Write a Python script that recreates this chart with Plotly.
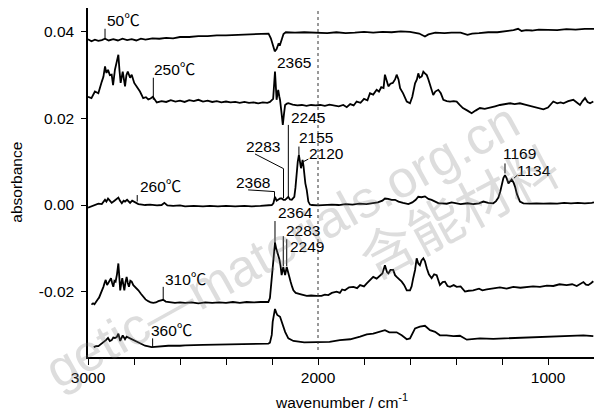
import plotly.graph_objects as go

# ---------------- data (wavenumber / cm-1, absorbance) ----------------
wn_50 = [3000, 2985, 2970, 2955, 2940, 2926, 2910, 2890, 2870, 2850, 2830, 2810, 2790, 2770, 2750,
         2720, 2690, 2660, 2630, 2600, 2560, 2520, 2480, 2440, 2400, 2360, 2320, 2280, 2240, 2215,
         2205, 2195, 2188, 2180, 2172, 2165, 2158, 2150, 2140, 2100, 2060, 2000, 1960, 1920, 1880,
         1840, 1800, 1760, 1720, 1680, 1640, 1600, 1560, 1535, 1520, 1490, 1450, 1420, 1380, 1350,
         1330, 1300, 1260, 1220, 1180, 1150, 1130, 1115, 1095, 1070, 1040, 1000, 960, 920, 880,
         840, 800]
ab_50 = [0.0383, 0.0378, 0.0382, 0.0379, 0.0381, 0.0384, 0.0380, 0.0383, 0.0380, 0.0384, 0.0381,
         0.0383, 0.0380, 0.0384, 0.0382, 0.0385, 0.0384, 0.0386, 0.0385, 0.0388, 0.0388, 0.0390,
         0.0390, 0.0392, 0.0392, 0.0393, 0.0394, 0.0395, 0.0396, 0.0396, 0.0385, 0.0365, 0.0355,
         0.0360, 0.0372, 0.0370, 0.0380, 0.0395, 0.0399, 0.0398, 0.0399, 0.0398, 0.0397, 0.0399,
         0.0397, 0.0398, 0.0400, 0.0398, 0.0400, 0.0399, 0.0401, 0.0400, 0.0396, 0.0389, 0.0394,
         0.0398, 0.0397, 0.0398, 0.0398, 0.0393, 0.0396, 0.0397, 0.0399, 0.0399, 0.0401, 0.0404,
         0.0407, 0.0402, 0.0404, 0.0403, 0.0405, 0.0405, 0.0404, 0.0406, 0.0405, 0.0407, 0.0407]

wn_250 = [3000, 2985, 2970, 2955, 2940, 2933, 2926, 2920, 2913, 2905, 2897, 2891, 2883, 2875, 2868,
          2863, 2858, 2849, 2839, 2833, 2827, 2817, 2810, 2799, 2788, 2774, 2760, 2748, 2738, 2728,
          2718, 2701, 2680, 2660, 2640, 2620, 2600, 2580, 2560, 2540, 2520, 2500, 2480, 2460, 2440,
          2420, 2400, 2380, 2360, 2340, 2320, 2300, 2280, 2260, 2240, 2220, 2209, 2195, 2187, 2183,
          2180, 2176, 2173, 2168, 2165, 2158, 2153, 2148, 2143, 2135, 2129, 2110, 2090, 2070, 2050,
          2030, 2010, 1990, 1970, 1950, 1930, 1910, 1890, 1875, 1860, 1845, 1832, 1815, 1800, 1785,
          1774, 1760, 1745, 1735, 1725, 1715, 1709, 1700, 1694, 1685, 1675, 1665, 1658, 1650, 1643,
          1630, 1614, 1600, 1590, 1578, 1570, 1564, 1558, 1549, 1542, 1535, 1527, 1520, 1510, 1499,
          1490, 1477, 1466, 1455, 1440, 1426, 1410, 1397, 1385, 1370, 1350, 1332, 1315, 1296, 1275,
          1252, 1230, 1209, 1190, 1165, 1145, 1122, 1100, 1078, 1050, 1020, 1000, 977, 960, 945,
          933, 912, 890, 875, 861, 850, 839, 828, 817, 803]
ab_250 = [0.0250, 0.0247, 0.0262, 0.0258, 0.0285, 0.0296, 0.0320, 0.0305, 0.0312, 0.0300, 0.0301,
          0.0277, 0.0312, 0.0330, 0.0347, 0.0310, 0.0282, 0.0308, 0.0274, 0.0300, 0.0308, 0.0294,
          0.0301, 0.0282, 0.0274, 0.0262, 0.0247, 0.0249, 0.0244, 0.0246, 0.0250, 0.0237, 0.0240,
          0.0238, 0.0242, 0.0239, 0.0241, 0.0238, 0.0242, 0.0240, 0.0243, 0.0239, 0.0241, 0.0238,
          0.0240, 0.0237, 0.0239, 0.0237, 0.0238, 0.0236, 0.0238, 0.0236, 0.0237, 0.0235, 0.0237,
          0.0236, 0.0238, 0.0245, 0.0308, 0.0280, 0.0243, 0.0258, 0.0266, 0.0250, 0.0243, 0.0210,
          0.0185, 0.0210, 0.0231, 0.0234, 0.0235, 0.0232, 0.0230, 0.0231, 0.0229, 0.0231, 0.0230,
          0.0231, 0.0229, 0.0232, 0.0230, 0.0228, 0.0231, 0.0226, 0.0233, 0.0230, 0.0239, 0.0236,
          0.0245, 0.0242, 0.0258, 0.0255, 0.0266, 0.0262, 0.0272, 0.0270, 0.0301, 0.0285, 0.0274,
          0.0280, 0.0282, 0.0290, 0.0301, 0.0290, 0.0270, 0.0258, 0.0239, 0.0235, 0.0250, 0.0281,
          0.0290, 0.0304, 0.0294, 0.0297, 0.0308, 0.0304, 0.0300, 0.0290, 0.0275, 0.0254, 0.0262,
          0.0266, 0.0258, 0.0243, 0.0240, 0.0239, 0.0240, 0.0239, 0.0232, 0.0224, 0.0218, 0.0212,
          0.0218, 0.0224, 0.0222, 0.0226, 0.0228, 0.0231, 0.0233, 0.0235, 0.0233, 0.0235, 0.0232,
          0.0229, 0.0226, 0.0221, 0.0225, 0.0239, 0.0235, 0.0237, 0.0235, 0.0240, 0.0243, 0.0236,
          0.0231, 0.0240, 0.0247, 0.0238, 0.0235, 0.0239]

wn_260 = [3000, 2985, 2970, 2955, 2940, 2926, 2920, 2913, 2905, 2897, 2885, 2868, 2860, 2853, 2845,
          2839, 2830, 2817, 2808, 2796, 2781, 2765, 2752, 2730, 2700, 2680, 2668, 2655, 2630, 2600,
          2578, 2540, 2500, 2470, 2435, 2400, 2360, 2320, 2288, 2250, 2220, 2201, 2194, 2187, 2180,
          2173, 2165, 2158, 2150, 2143, 2136, 2129, 2122, 2114, 2108, 2103, 2098, 2093, 2088, 2083,
          2078, 2074, 2070, 2067, 2063, 2060, 2055, 2049, 2042, 2035, 2027, 2000, 1970, 1940, 1910,
          1880, 1850, 1820, 1790, 1760, 1740, 1720, 1709, 1695, 1680, 1665, 1650, 1630, 1607, 1590,
          1575, 1564, 1550, 1535, 1520, 1506, 1490, 1475, 1462, 1440, 1419, 1400, 1380, 1350, 1325,
          1300, 1281, 1260, 1238, 1226, 1216, 1208, 1201, 1194, 1187, 1180, 1172, 1165, 1158, 1150,
          1143, 1135, 1122, 1107, 1080, 1050, 1020, 990, 960, 930, 900, 870, 840, 810, 800]
ab_260 = [-0.0006, -0.0003, 0.0000, 0.0003, 0.0002, 0.0012, 0.0008, 0.0015, 0.0010, 0.0005, 0.0010,
          0.0017, 0.0009, 0.0004, 0.0010, 0.0008, 0.0012, 0.0005, 0.0010, 0.0007, 0.0002, 0.0001,
          0.0000, 0.0001, -0.0001, 0.0000, 0.0005, -0.0001, -0.0002, -0.0001, -0.0003, -0.0002,
          -0.0003, -0.0002, -0.0003, -0.0002, -0.0003, -0.0002, -0.0003, -0.0002, -0.0001, 0.0000,
          0.0004, 0.0019, 0.0010, 0.0012, 0.0015, 0.0015, 0.0012, 0.0012, 0.0015, 0.0019, 0.0013,
          0.0012, 0.0016, 0.0019, 0.0040, 0.0073, 0.0100, 0.0116, 0.0098, 0.0085, 0.0095, 0.0104,
          0.0090, 0.0073, 0.0050, 0.0035, 0.0008, 0.0001, 0.0000, -0.0001, 0.0000, 0.0001, 0.0000,
          0.0002, 0.0001, 0.0003, 0.0002, 0.0004, 0.0006, 0.0010, 0.0015, 0.0014, 0.0012, 0.0012,
          0.0008, 0.0005, 0.0002, 0.0006, 0.0012, 0.0019, 0.0018, 0.0020, 0.0014, 0.0012, 0.0008,
          0.0004, 0.0004, 0.0003, 0.0006, 0.0004, 0.0002, 0.0004, 0.0002, 0.0004, 0.0008, 0.0005,
          0.0004, 0.0009, 0.0017, 0.0030, 0.0050, 0.0062, 0.0069, 0.0062, 0.0050, 0.0054, 0.0059,
          0.0052, 0.0042, 0.0025, 0.0008, 0.0004, 0.0003, 0.0004, 0.0003, 0.0004, 0.0003, 0.0005,
          0.0004, 0.0005, 0.0004, 0.0005, 0.0006]

wn_310 = [2985, 2978, 2972, 2965, 2958, 2952, 2945, 2940, 2933, 2928, 2923, 2917, 2912, 2906, 2900,
          2895, 2890, 2885, 2880, 2874, 2868, 2864, 2860, 2855, 2851, 2846, 2842, 2837, 2832, 2827,
          2822, 2816, 2810, 2803, 2796, 2788, 2781, 2770, 2760, 2750, 2738, 2727, 2716, 2705, 2694,
          2685, 2673, 2662, 2651, 2640, 2622, 2600, 2578, 2550, 2520, 2490, 2460, 2430, 2400, 2370,
          2340, 2310, 2280, 2250, 2230, 2216, 2209, 2203, 2197, 2192, 2187, 2182, 2177, 2172, 2168,
          2163, 2158, 2151, 2147, 2143, 2136, 2132, 2129, 2124, 2119, 2113, 2107, 2097, 2086, 2070,
          2049, 2030, 2006, 1985, 1970, 1955, 1940, 1919, 1905, 1895, 1883, 1865, 1846, 1830, 1817,
          1800, 1788, 1775, 1760, 1745, 1730, 1720, 1709, 1700, 1694, 1685, 1673, 1665, 1658, 1645,
          1636, 1625, 1614, 1600, 1593, 1586, 1578, 1571, 1564, 1557, 1550, 1542, 1535, 1527, 1518,
          1506, 1495, 1484, 1477, 1470, 1458, 1448, 1437, 1426, 1410, 1397, 1380, 1361, 1345, 1325,
          1300, 1285, 1266, 1240, 1209, 1180, 1151, 1120, 1093, 1065, 1035, 1005, 977, 950, 919,
          895, 875, 860, 846, 835, 825, 812, 803]
ab_310 = [-0.0230, -0.0227, -0.0229, -0.0222, -0.0218, -0.0214, -0.0206, -0.0198, -0.0189, -0.0180,
          -0.0173, -0.0185, -0.0181, -0.0175, -0.0169, -0.0180, -0.0189, -0.0175, -0.0177, -0.0160,
          -0.0135, -0.0165, -0.0197, -0.0180, -0.0169, -0.0185, -0.0197, -0.0178, -0.0166, -0.0180,
          -0.0189, -0.0175, -0.0177, -0.0185, -0.0189, -0.0192, -0.0197, -0.0205, -0.0212, -0.0218,
          -0.0222, -0.0225, -0.0226, -0.0225, -0.0222, -0.0220, -0.0219, -0.0223, -0.0224, -0.0225,
          -0.0226, -0.0225, -0.0226, -0.0225, -0.0227, -0.0225, -0.0226, -0.0225, -0.0226, -0.0224,
          -0.0226, -0.0224, -0.0225, -0.0224, -0.0225, -0.0224, -0.0215, -0.0180, -0.0146, -0.0110,
          -0.0087, -0.0100, -0.0108, -0.0118, -0.0125, -0.0140, -0.0162, -0.0143, -0.0158, -0.0162,
          -0.0143, -0.0150, -0.0154, -0.0165, -0.0177, -0.0188, -0.0197, -0.0203, -0.0204, -0.0207,
          -0.0210, -0.0209, -0.0210, -0.0210, -0.0207, -0.0208, -0.0203, -0.0200, -0.0203, -0.0195,
          -0.0197, -0.0190, -0.0189, -0.0192, -0.0185, -0.0188, -0.0181, -0.0175, -0.0166, -0.0170,
          -0.0162, -0.0158, -0.0139, -0.0155, -0.0158, -0.0150, -0.0150, -0.0162, -0.0166, -0.0172,
          -0.0177, -0.0185, -0.0197, -0.0197, -0.0188, -0.0169, -0.0150, -0.0123, -0.0135, -0.0139,
          -0.0128, -0.0123, -0.0130, -0.0146, -0.0160, -0.0169, -0.0160, -0.0162, -0.0175, -0.0185,
          -0.0178, -0.0177, -0.0187, -0.0189, -0.0185, -0.0189, -0.0188, -0.0200, -0.0198, -0.0197,
          -0.0193, -0.0197, -0.0195, -0.0192, -0.0190, -0.0193, -0.0189, -0.0191, -0.0190, -0.0188,
          -0.0189, -0.0186, -0.0187, -0.0183, -0.0185, -0.0183, -0.0187, -0.0183, -0.0178, -0.0184,
          -0.0185, -0.0180, -0.0176]

wn_360 = [2975, 2965, 2955, 2945, 2937, 2930, 2922, 2913, 2905, 2897, 2890, 2883, 2875, 2868, 2860,
          2849, 2839, 2832, 2817, 2805, 2796, 2774, 2752, 2723, 2700, 2651, 2600, 2578, 2500, 2435,
          2360, 2288, 2216, 2209, 2201, 2197, 2192, 2187, 2182, 2177, 2165, 2158, 2153, 2143, 2129,
          2107, 2060, 2006, 1950, 1905, 1860, 1817, 1788, 1760, 1730, 1709, 1690, 1658, 1636, 1614,
          1600, 1578, 1557, 1535, 1513, 1491, 1470, 1441, 1411, 1383, 1353, 1296, 1238, 1180, 1093,
          1035, 962, 890, 846, 803]
ab_360 = [-0.0328, -0.0326, -0.0326, -0.0322, -0.0318, -0.0316, -0.0312, -0.0307, -0.0314, -0.0312,
          -0.0306, -0.0307, -0.0305, -0.0297, -0.0314, -0.0301, -0.0310, -0.0304, -0.0308, -0.0310,
          -0.0314, -0.0320, -0.0325, -0.0328, -0.0327, -0.0325, -0.0325, -0.0324, -0.0323, -0.0322,
          -0.0322, -0.0321, -0.0320, -0.0318, -0.0300, -0.0270, -0.0252, -0.0240, -0.0248, -0.0254,
          -0.0258, -0.0268, -0.0277, -0.0293, -0.0308, -0.0314, -0.0317, -0.0317, -0.0316, -0.0312,
          -0.0310, -0.0304, -0.0299, -0.0297, -0.0293, -0.0289, -0.0294, -0.0294, -0.0301, -0.0310,
          -0.0308, -0.0285, -0.0281, -0.0279, -0.0289, -0.0293, -0.0301, -0.0301, -0.0303, -0.0302,
          -0.0311, -0.0308, -0.0309, -0.0308, -0.0306, -0.0304, -0.0304, -0.0303, -0.0301, -0.0303]

series = [(wn_50, ab_50), (wn_250, ab_250), (wn_260, ab_260), (wn_310, ab_310), (wn_360, ab_360)]

x_major = [3000, 2000, 1000]
x_major_text = ["3000", "2000", "1000"]
y_ticks = [0.04, 0.02, 0.00, -0.02]
y_tick_text = ["0.04", "0.02", "0.00", "-0.02"]

# labels: (text, wavenumber, absorbance)
labels = [("50℃", 2922, 0.0425), ("250℃", 2717, 0.0312), ("2365", 2183, 0.0328),
          ("2245", 2122, 0.0201), ("2283", 2317, 0.0134), ("2155", 2087, 0.0155),
          ("2120", 2043, 0.0120), ("2368", 2361, 0.0053), ("260℃", 2780, 0.0042),
          ("1169", 1198, 0.0118), ("1134", 1137, 0.0079), ("2364", 2180, -0.0018),
          ("2283", 2143, -0.0058), ("2249", 2128, -0.0095), ("310℃", 2670, -0.0173),
          ("360℃", 2730, -0.0289)]

# leader lines: list of polylines [(wn, abs), ...]
leaders = [
    [(2926, 0.0407), (2926, 0.0384)],
    [(2716, 0.0294), (2716, 0.0243)],
    [(2129, 0.0185), (2129, 0.0016)],
    [(2274, 0.0118), (2150, 0.0084), (2150, 0.0016)],
    [(2304, 0.0035), (2189, 0.0031), (2189, 0.0009)],
    [(2083, 0.0135), (2083, 0.0116)],
    [(2064, 0.0100), (2042, 0.0106)],
    [(1187, 0.0096), (1187, 0.0073)],
    [(1148, 0.0062), (1133, 0.0069)],
    [(2786, 0.0023), (2786, 0.0008)],
    [(2187, -0.0037), (2187, -0.0088)],
    [(2151, -0.0072), (2151, -0.0141)],
    [(2136, -0.0079), (2136, -0.0141)],
    [(2673, -0.0189), (2673, -0.0220)],
    [(2719, -0.0308), (2719, -0.0328)],
]

FONT = "Liberation Sans, Noto Sans CJK SC, Arial, sans-serif"
FS = 15.5

fig = go.Figure()
for wn, ab in series:
    fig.add_trace(go.Scatter(x=wn, y=ab, mode="lines",
                             line=dict(color="black", width=1.8), showlegend=False,
                             hoverinfo="skip"))

shapes = []
for pl in leaders:
    for (x0, y0), (x1, y1) in zip(pl[:-1], pl[1:]):
        shapes.append(dict(type="line", xref="x", yref="y", x0=x0, y0=y0, x1=x1, y1=y1,
                           line=dict(color="black", width=1)))
shapes.append(dict(type="line", xref="x", yref="paper", x0=2000, x1=2000, y0=0.02, y1=0.994,
                   line=dict(color="#333333", width=1, dash="dot")))

annotations = []
for t, x, y in labels:
    annotations.append(dict(text=t, x=x, y=y, xref="x", yref="y", xanchor="left",
                            yanchor="middle", showarrow=False, borderpad=0,
                            font=dict(family=FONT, size=FS, color="black")))

# axis titles
annotations.append(dict(text="wavenumber / cm<sup>-1</sup>", x=0.5, y=-0.125, xref="paper",
                        yref="paper", xanchor="center", yanchor="middle", showarrow=False,
                        font=dict(family=FONT, size=FS, color="black")))
annotations.append(dict(text="absorbance", x=-0.142, y=0.5, xref="paper", yref="paper",
                        xanchor="center", yanchor="middle", textangle=-90, showarrow=False,
                        font=dict(family=FONT, size=FS, color="black")))

# watermark
annotations.append(dict(text="getic—materials.org.cn", xref="paper", yref="paper",
                        x=(282 - 88) / 506, y=(357 - 245) / 349, xanchor="center",
                        yanchor="middle", showarrow=False, textangle=-29,
                        font=dict(family="Liberation Sans, Arial", size=52,
                                  color="rgba(120,120,120,0.25)")))
annotations.append(dict(text="含能材料", xref="paper", yref="paper",
                        x=(458 - 88) / 506, y=(357 - 210) / 349, xanchor="center",
                        yanchor="middle", showarrow=False, textangle=-28,
                        font=dict(family="Noto Sans CJK SC", size=54,
                                  color="rgba(120,120,120,0.25)")))

fig.update_layout(
    width=594, height=412,
    margin=dict(l=88, r=0, t=8, b=55),
    paper_bgcolor="white", plot_bgcolor="white",
    font=dict(family=FONT, size=FS, color="black"),
    shapes=shapes,
    annotations=annotations,
    xaxis=dict(range=[3000, 800], showgrid=False, zeroline=False,
               showline=True, linecolor="black", linewidth=1.5,
               tickmode="array", tickvals=x_major, ticktext=x_major_text,
               ticks="outside", ticklen=6, tickwidth=1, tickcolor="black",
               minor=dict(dtick=200, tick0=0, ticks="outside", ticklen=6, tickwidth=1,
                          tickcolor="black", showgrid=False),
               tickfont=dict(family=FONT, size=FS)),
    yaxis=dict(range=[-0.0351, 0.0455], showgrid=False, zeroline=False,
               showline=True, linecolor="black", linewidth=1.5,
               tickmode="array", tickvals=y_ticks, ticktext=y_tick_text,
               ticks="outside", ticklen=5, tickwidth=1, tickcolor="black",
               ticklabelstandoff=4,
               tickfont=dict(family=FONT, size=FS)),
)

fig.write_html("out.html")
